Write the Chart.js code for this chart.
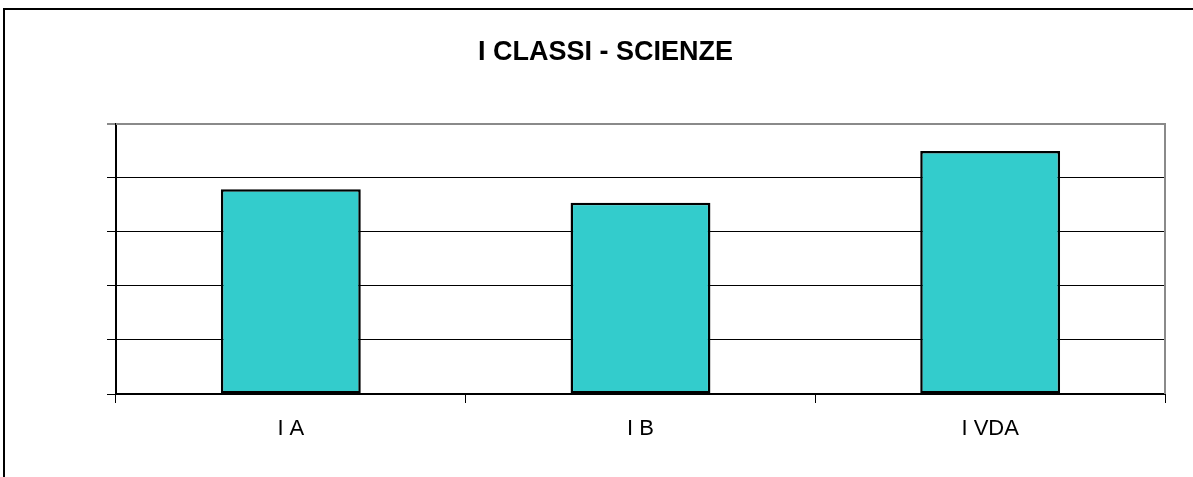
<!DOCTYPE html>
<html>
<head>
<meta charset="utf-8">
<script src="https://cdn.jsdelivr.net/npm/chart.js@4"></script>
<style>
  html, body { margin: 0; padding: 0; background: #fff; overflow: hidden; }
  #frame { position: absolute; left: 3px; top: 8px; width: 1300px; height: 600px;
           border-left: 2px solid #000; border-top: 2px solid #000; }
  #wrap { position: absolute; left: 3px; top: 8px; width: 1205px; height: 469px; }
</style>
</head>
<body>
<div id="frame"></div>
<div id="wrap"><canvas id="myChart"></canvas></div>
<script>
const titleText = 'I CLASSI - SCIENZE';
const classi = ['I A', 'I B', 'I VDA'];
const scienze = [3.79, 3.54, 4.5];
const yMin = 0;
const yMax = 5;
const yStep = 1;

const ctx = document.getElementById('myChart');

// grey plot-area border on top and right, like the spreadsheet original
const plotBorder = {
  id: 'plotBorder',
  beforeDatasetsDraw(chart) {
    const a = chart.chartArea;
    const c = chart.ctx;
    c.save();
    c.strokeStyle = '#8a8a8a';
    c.lineWidth = 2;
    c.beginPath();
    c.moveTo(a.left, a.top);
    c.lineTo(a.right, a.top);
    c.lineTo(a.right, a.bottom);
    c.stroke();
    c.restore();
  }
};

const myChart = new Chart(ctx, {
  type: 'bar',
  data: {
    labels: classi,
    datasets: [{
      label: 'Scienze',
      data: scienze,
      backgroundColor: '#33cccc',
      borderColor: '#000',
      borderWidth: 2.5,
      borderSkipped: false,
      categoryPercentage: 0.4,
      barPercentage: 1,
    }]
  },
  options: {
    responsive: true,
    maintainAspectRatio: false,
    animation: false,
    layout: { padding: { left: 43, right: 43, top: 0, bottom: 0 } },
    plugins: {
      legend: { display: false },
      tooltip: { enabled: false },
      title: {
        display: true,
        text: titleText,
        color: '#000',
        font: { family: 'Liberation Sans, Arial, sans-serif', size: 27, weight: 'bold' },
        padding: { top: 28.5, bottom: 55 }
      }
    },
    scales: {
      x: {
        grid: { offset: true, drawOnChartArea: false, drawTicks: true, tickLength: 9, color: '#000', lineWidth: 1 },
        border: { color: '#000', width: 2 },
        ticks: {
          color: '#000',
          padding: 13,
          font: { family: 'Liberation Sans, Arial, sans-serif', size: 22 }
        },
        afterFit(scale) { scale.height = 83; }
      },
      y: {
        min: yMin,
        max: yMax,
        grid: {
          drawTicks: true,
          tickLength: 9,
          color: (c) => (c.tick && c.tick.value === yMax) ? '#8a8a8a' : '#000',
          lineWidth: (c) => (c.tick && c.tick.value === yMax) ? 2 : 1
        },
        border: { color: '#000', width: 2 },
        ticks: { display: false, stepSize: yStep },
        afterFit(scale) { scale.width = 70; }
      }
    }
  },
  plugins: [plotBorder]
});
</script>
</body>
</html>
